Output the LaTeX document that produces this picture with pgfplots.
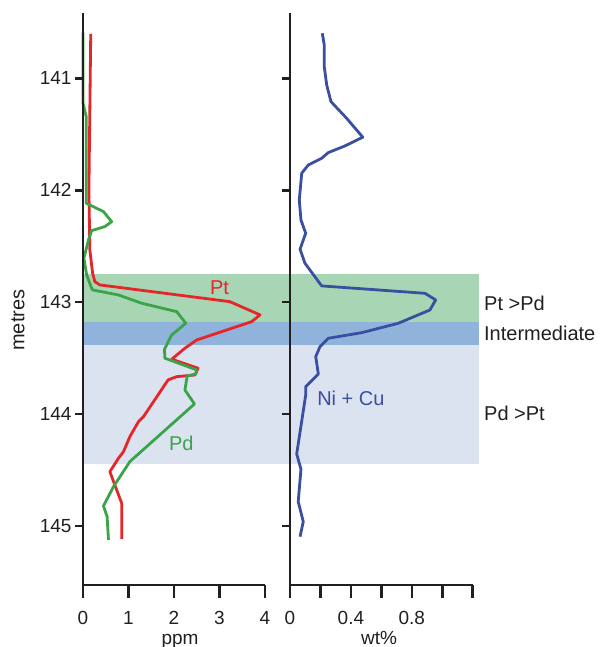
\documentclass[border=0pt]{standalone}
\usepackage{fontspec}
\setmainfont{Liberation Sans}
\usepackage{pgfplots}
\pgfplotsset{compat=1.18}
\definecolor{ptred}{HTML}{E52629}
\definecolor{pdgreen}{HTML}{3BA449}
\definecolor{niblue}{HTML}{3A4FA0}
\definecolor{bandgreen}{HTML}{A8D5B4}
\definecolor{bandmid}{HTML}{8FB3DB}
\definecolor{bandlight}{HTML}{DCE3F0}
\definecolor{axcol}{HTML}{231F20}
\newcommand{\tfont}{\fontsize{19}{22}\selectfont}
\pgfplotsset{
  panel/.style={
    scale only axis, height=572pt,
    y dir=reverse, ymin=140.415, ymax=145.527,
    axis x line*=bottom, axis y line*=left,
    axis line style={-, line width=2.5pt, color=axcol},
    tick align=outside, major tick length=8pt,
    tick style={line width=2.5pt, color=axcol},
    ytick={141,142,143,144,145},
    extra x tick style={major tick length=13pt},
    extra x tick labels={},
    /pgf/number format/assume math mode=true,
    xticklabel style={font=\tfont, text=axcol, yshift=-15pt},
    yticklabel style={font=\tfont, text=axcol},
    every axis y label/.style={at={(axis description cs:-0.357,0.463)}, rotate=90, anchor=center, font=\fontsize{20}{24}\selectfont, text=axcol},
    clip=false, axis on top,
  }
}
\begin{document}
\begin{tikzpicture}
\path[use as bounding box] (0,0) rectangle (600pt,647pt);
\begin{axis}[panel, at={(83pt,62pt)}, anchor=south west, width=182pt,
  xmin=0, xmax=4, xtick={0,1,2,3,4}, extra x ticks={0,1,2,3,4},
  xticklabels={0,1,2,3,4},
  yticklabels={141,142,143,144,145},
  xlabel={ppm}, ylabel={metres},
  every axis x label/.style={at={(axis description cs:0.533,0)}, anchor=base, yshift=-59pt, font=\tfont, text=axcol}]
\fill[bandgreen] (axis cs:0,142.747) rectangle (axis cs:8.703,143.176);
\fill[bandmid] (axis cs:0,143.176) rectangle (axis cs:8.703,143.379);
\fill[bandlight] (axis cs:0,143.379) rectangle (axis cs:8.703,144.445);
\addplot[ptred, line width=2.8pt, line join=round] coordinates {
(0.17,140.602) (0.14,141.64) (0.13,142.0) (0.15,142.53) (0.21,142.738)
(0.26,142.816) (0.37,142.845) (3.23,142.995) (3.89,143.113) (3.71,143.173)
(2.50,143.337) (2.24,143.411) (1.95,143.509) (2.53,143.590) (2.46,143.650)
(2.06,143.665) (1.87,143.694) (1.65,143.828) (1.33,144.022) (1.22,144.067)
(1.03,144.201) (0.89,144.335) (0.78,144.394) (0.59,144.514) (0.85,144.796)
(0.85,145.118)};
\addplot[pdgreen, line width=2.8pt, line join=round] coordinates {
(0.0,140.591) (0.0,141.22) (0.07,141.34) (0.07,142.115) (0.45,142.19)
(0.63,142.28) (0.48,142.324) (0.19,142.36) (0.12,142.443) (0.02,142.607)
(0.08,142.756) (0.19,142.875) (0.21,142.89) (0.78,142.935) (1.29,143.009)
(2.06,143.084) (2.26,143.188) (1.95,143.292) (1.79,143.42) (1.80,143.50)
(2.50,143.605) (2.48,143.641) (2.29,143.659) (2.24,143.784) (2.45,143.909)
(1.03,144.424) (0.67,144.648) (0.45,144.82) (0.53,144.916) (0.56,145.124)};
\node[ptred, font=\fontsize{20}{24}\selectfont] at (axis cs:3.0,142.87) {Pt};
\node[pdgreen, font=\fontsize{20}{24}\selectfont] at (axis cs:2.16,144.26) {Pd};
\end{axis}
\begin{axis}[panel, at={(290pt,62pt)}, anchor=south west, width=182.7pt,
  xmin=0, xmax=1.2, xtick={0,0.2,0.4,0.6,0.8,1.0,1.2},
  extra x ticks={0,0.2,0.4,0.6,0.8,1.0,1.2},
  xticklabels={0,,0.4,,0.8,,},
  yticklabels={},
  xlabel={wt\%},
  every axis x label/.style={at={(axis description cs:0.487,0)}, anchor=base, yshift=-59pt, font=\tfont, text=axcol}]
\addplot[niblue, line width=2.8pt, line join=round] coordinates {
(0.212,140.596) (0.225,140.70) (0.225,140.895) (0.241,141.058) (0.269,141.207)
(0.372,141.356) (0.478,141.525) (0.361,141.603) (0.251,141.663) (0.208,141.713)
(0.120,141.773) (0.077,141.847) (0.061,142.086) (0.072,142.265) (0.103,142.383)
(0.066,142.526) (0.098,142.651) (0.208,142.854) (0.886,142.920) (0.957,142.979)
(0.919,143.069) (0.711,143.188) (0.471,143.272) (0.251,143.322) (0.197,143.397)
(0.169,143.486) (0.186,143.641) (0.103,143.754) (0.103,143.83) (0.044,144.356)
(0.072,144.492) (0.054,144.782) (0.087,144.961) (0.066,145.095)};
\node[niblue, font=\fontsize{20}{24}\selectfont] at (axis cs:0.40,143.86) {Ni + Cu};
\node[anchor=west, inner sep=0pt, text=axcol, font=\fontsize{20}{24}\selectfont] at (axis cs:1.274,143.006) {Pt >Pd};
\node[anchor=west, inner sep=0pt, text=axcol, font=\fontsize{20}{24}\selectfont] at (axis cs:1.274,143.28) {Intermediate};
\node[anchor=west, inner sep=0pt, text=axcol, font=\fontsize{20}{24}\selectfont] at (axis cs:1.274,143.99) {Pd >Pt};
\end{axis}
\end{tikzpicture}
\end{document}
